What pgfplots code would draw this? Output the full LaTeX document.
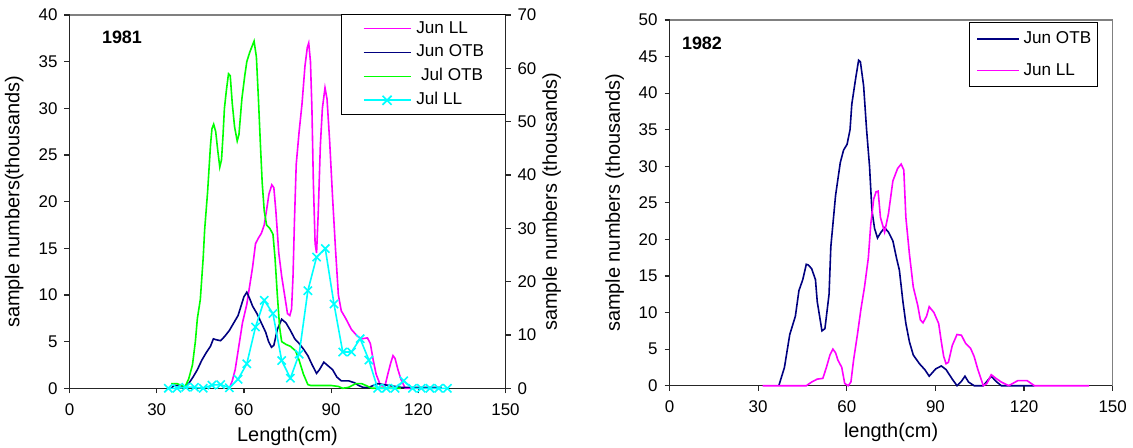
\documentclass[border=0pt]{standalone}
\usepackage{fontspec}
\setmainfont{Liberation Sans}
\setsansfont{Liberation Sans}
\usepackage{pgfplots}
\pgfplotsset{compat=1.18}

\definecolor{jmag}{RGB}{255,0,255}
\definecolor{jnavy}{RGB}{0,0,128}
\definecolor{jgreen}{RGB}{0,255,0}
\definecolor{jcyan}{RGB}{0,255,255}

\newcommand{\lblfont}{\fontsize{8.5}{10}\selectfont}

\pgfplotsset{
  base/.style={
    scale only axis,
    xmin=0, xmax=150,
    xtick={0,30,...,150},
    tick align=outside,
    major tick length=2.5bp,
    axis line style={-, line width=0.6bp, black!85},
    tick style={line width=0.6bp, black!85},
    tick label style={font=\lblfont},
    xticklabel style={yshift=-1.5bp},
    label style={font=\lblfont},
    /pgf/number format/assume math mode=true,
    clip=false,
    every axis plot/.append style={line width=0.8bp},
    legend cell align=left,
  },
}

\begin{document}
\begin{tikzpicture}
\path[use as bounding box] (0,0) rectangle (566.5bp,224bp);

% ---------------- 1981, left y axis
\begin{axis}[base,
  at={(34.75bp,29.85bp)}, anchor=south west,
  width=218bp, height=186.65bp,
  axis x line*=bottom, axis y line*=left,
  ymin=0, ymax=40, ytick={0,5,...,40},
  xlabel={Length(cm)}, ylabel={sample numbers(thousands)},
  every axis x label/.style={at={(axis description cs:0.5,-0.1285)}, anchor=center},
  every axis y label/.style={at={(axis description cs:-0.1266,0.5)}, anchor=center, rotate=90},
  legend style={at={(axis description cs:1,1.0027)}, anchor=north east,
    draw=black, line width=0.5bp, inner xsep=10.5bp, inner ysep=2.8bp,
    row sep=3.45bp, column sep=2.5bp, font=\fontsize{8.6}{10}\selectfont,
    nodes={inner sep=0pt, text height=6.5bp, text depth=2bp}},
  legend image code/.code={\draw[mark repeat=2,mark phase=2,#1] plot coordinates {(0bp,0bp) (11.75bp,0bp) (23.5bp,0bp)};},
]
\draw[gray, line width=0.6bp] (rel axis cs:0,1) -- (rel axis cs:1,1);

\addplot[jmag, mark=none] coordinates {
 (55,0) (56,0.8) (57,2) (58,4) (59.5,7) (61,9) (62,11) (63,13) (64,15.5)
 (65,16.1) (66,16.6) (67,17.5) (68,19.5) (68.6,20.8) (69.6,21.8) (70.3,21.5)
 (71,19) (72,14.5) (73,12) (74,10) (75,8) (75.8,7.8) (76.4,8.5) (76.9,12)
 (77.4,18) (78,24) (79,27.5) (80,30.5) (81,34.5) (81.8,36.5) (82.3,37)
 (82.9,35) (83.4,30) (83.9,22) (84.5,15.5) (85,14.5) (85.6,19) (86.3,26)
 (87,30) (87.9,32.2) (88.6,31) (89.5,26.5) (90.5,20.5) (91.5,15) (92.5,10)
 (93.5,8.3) (95,7.5) (97,6.3) (99,5.6) (100.5,5.3) (102.5,5.4) (103.5,4.8)
 (104.5,3) (105.5,1.5) (107,0.3) (108.5,0.2) (109.5,1.5) (110.5,2.7)
 (111.3,3.5) (112,3.2) (113,2) (114,1) (115.5,0) (128,0)
};
\addlegendentry{Jun LL}

\addplot[jnavy, mark=none] coordinates {
 (35,0) (36,0.3) (38,0.3) (39.5,0.2) (41,0.5) (42.5,1.2) (44,2) (45.5,3)
 (47,3.8) (48.5,4.5) (49.5,5.3) (50.5,5.2) (52,5.1) (53.5,5.6) (55,6.2)
 (56.5,7) (58,7.8) (59,8.8) (60,9.8) (61,10.3) (62,9.6) (63,8.8) (64.5,8)
 (66,7) (67.5,6) (68.5,5) (69.5,4.4) (70.3,4.6) (71.5,6.3) (73,7.4)
 (74.5,7) (76,6.2) (77.5,5.3) (79,4.8) (80.5,4.2) (82,3.5) (83.5,2.5)
 (85,1.6) (86,2) (87.5,2.8) (89,2.4) (90.5,2) (92,1.2) (93.5,0.8) (96,0.8)
 (98,0.6) (99.5,0.3) (101,0.1) (103,0.1) (104.5,0.3) (106,0.5) (108,0.4)
 (110,0.3) (112,0.2) (114,0.1) (128,0.1)
};
\addlegendentry{Jun OTB}

\addplot[jgreen, mark=none] coordinates {
 (35,0.5) (37,0.5) (38.5,0.3) (39.8,0.2) (41,1) (42.3,2.5) (43.3,5) (44,7.5)
 (45,9.5) (46,14) (46.5,17) (47.5,21) (48.5,26) (49,27.8) (49.6,28.3)
 (50.3,27.5) (51,25.5) (51.7,23.7) (52.3,24.5) (52.8,27) (53.3,30) (54,32)
 (54.7,33.7) (55.3,33.5) (56,30.5) (56.8,28) (57.7,26.5) (58.3,27.2)
 (59.3,31) (60.3,33.5) (61,35) (62,36) (63.5,37.2) (64.3,35.5) (65,31)
 (65.7,26) (66.3,22) (67,19) (67.8,17.5) (69,17.1) (70,16.5) (70.7,14)
 (71.5,10) (72.3,6.5) (73,5) (74.5,4.7) (76,4.5) (77.8,4) (79,3) (80.5,1.5)
 (82,0.4) (83,0.3) (90,0.3) (92.5,0.2) (94,0) (96,0.1) (98.5,0.5)
 (100.5,0.5) (102,0.3) (104,0) (114,0)
};
\addlegendentry{\ Jul OTB}

\addlegendimage{jcyan, line width=0.8bp, mark=x, mark size=3.2bp}
\addlegendentry{Jul LL}

\node[anchor=west, font=\bfseries\fontsize{9}{10}\selectfont] at (axis description cs:0.0585,0.9392) {1981};
\end{axis}

% ---------------- 1981, right y axis
\begin{axis}[base,
  at={(34.75bp,29.85bp)}, anchor=south west,
  width=218bp, height=186.65bp,
  axis x line=none, axis y line*=right,
  ymin=0, ymax=70, ytick={0,10,...,70},
  ylabel={sample numbers (thousands)},
  every axis y label/.style={at={(axis description cs:1.1062,0.5)}, anchor=center, rotate=90},
]
\addplot[jcyan, mark=x, mark size=2.9bp] coordinates {
 (34,0) (37,0) (40,0.2) (43,0.2) (46,0) (49,0.6) (52,0.7) (55,0.1) (58,1.7)
 (61,4.6) (64,11.5) (67,16.5) (70,14) (73,5.2) (76,1.9) (79,6.4) (82,18.3)
 (85,24.6) (88,26.2) (91,15.8) (94,6.8) (97,6.8) (100,9.3) (103,5.3)
 (106,0) (109,0) (112,0) (115,1.4) (118,0) (121,0) (124,0) (127,0) (130,0)
};
\end{axis}

% ---------------- 1982
\begin{axis}[base,
  at={(334.75bp,31.15bp)}, anchor=south west,
  width=221.6bp, height=182.85bp,
  axis x line*=bottom, axis y line*=left,
  ymin=0, ymax=50, ytick={0,5,...,50},
  xlabel={length(cm)}, ylabel={sample numbers (thousands)},
  every axis x label/.style={at={(axis description cs:0.5,-0.1285)}, anchor=center},
  every axis y label/.style={at={(axis description cs:-0.1234,0.5)}, anchor=center, rotate=90},
  legend style={at={(axis description cs:0.9675,0.9937)}, anchor=north east,
    draw=black, line width=0.5bp, inner xsep=3.3bp, inner ysep=3.75bp,
    row sep=7.35bp, column sep=2bp, font=\fontsize{8.6}{10}\selectfont,
    nodes={inner sep=0pt, text height=6.5bp, text depth=2bp}},
  legend image code/.code={\draw[#1] (0bp,0bp) -- (20.85bp,0bp);},
]
\draw[gray, line width=0.6bp] (rel axis cs:0,1) -- (rel axis cs:1,1) -- (rel axis cs:1,0);

\addplot[jnavy, mark=none] coordinates {
 (37,0) (38.9,2.5) (40.7,7) (42.6,9.5) (43.8,13) (45.1,14.5) (46.3,16.6)
 (47,16.5) (48.1,16) (49.4,14.5) (50,11.5) (51.6,7.5) (52.6,7.8) (54,12.5)
 (54.6,19) (56.2,26) (57.8,30.5) (58.9,32.2) (60.1,33) (61.1,35) (61.7,38.5)
 (63,42) (64,44.5) (64.6,44.3) (65.7,41) (66.7,35) (67.7,30) (68.5,24)
 (69.4,21.5) (70.4,20.2) (71.6,21) (72.8,21.6) (74.1,21) (75.6,19.8)
 (76.8,17.5) (77.8,15.8) (79,11.5) (80,8.5) (81.2,6) (82.5,4.2) (84.6,3)
 (86.4,2.2) (87.9,1.3) (90.1,2.3) (92,2.7) (93.6,2.2) (95.7,0.9) (97.3,0)
 (98.8,0.6) (100,1.3) (101.2,0.5) (103.1,0) (106.2,0) (108.9,1.3)
 (110.5,0.6) (112.3,0) (123.5,0)
};
\addlegendentry{Jun OTB}

\addplot[jmag, mark=none] coordinates {
 (31.5,0) (46.3,0) (48.1,0.5) (50,0.9) (51.9,1) (53.1,2.5) (54.3,4.2)
 (55.3,5) (56.2,4.5) (57,3.5) (58.3,2.5) (59.3,0.3) (60.5,0) (61.4,0.5)
 (62.3,3.5) (63.6,7) (64.8,10.5) (66,13.5) (67.3,17.5) (68.1,22) (69.1,25.5)
 (69.9,26.5) (70.6,26.6) (71.4,23) (72.8,21) (74.1,23.5) (75.6,28)
 (77.2,29.7) (78.4,30.3) (79.3,29.5) (80,23) (81.2,18) (82.5,13.5) (84,11)
 (84.9,9) (85.8,8.6) (87,9.5) (87.9,10.8) (89.5,10) (91.1,8.5) (92,6)
 (92.8,4) (93.6,3) (94.4,3.2) (95.7,5.5) (97.3,7) (98.8,6.9) (100.2,5.8)
 (101.9,5.1) (103.1,4) (104.3,2.3) (106.2,0) (107.4,0.3) (108.9,1.5)
 (110.5,1) (112.3,0.5) (114.8,0) (117.9,0.7) (121,0.7) (123.5,0) (142,0)
};
\addlegendentry{Jun LL}

\node[anchor=west, font=\bfseries\fontsize{9}{10}\selectfont] at (axis description cs:0.0124,0.9371) {1982};
\end{axis}
\end{tikzpicture}
\end{document}
